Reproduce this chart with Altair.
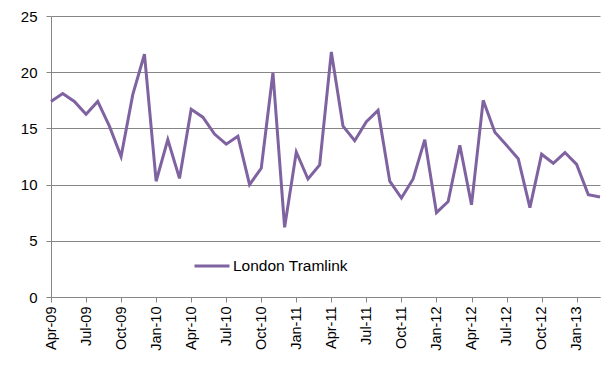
import altair as alt
import pandas as pd

months = ["Apr-09","May-09","Jun-09","Jul-09","Aug-09","Sep-09","Oct-09","Nov-09","Dec-09",
          "Jan-10","Feb-10","Mar-10","Apr-10","May-10","Jun-10","Jul-10","Aug-10","Sep-10",
          "Oct-10","Nov-10","Dec-10","Jan-11","Feb-11","Mar-11","Apr-11","May-11","Jun-11",
          "Jul-11","Aug-11","Sep-11","Oct-11","Nov-11","Dec-11","Jan-12","Feb-12","Mar-12",
          "Apr-12","May-12","Jun-12","Jul-12","Aug-12","Sep-12","Oct-12","Nov-12","Dec-12",
          "Jan-13","Feb-13","Mar-13"]
values = [17.4, 18.1, 17.4, 16.25, 17.4, 15.2, 12.5, 18.0, 21.6,
          10.3, 14.0, 10.55, 16.7, 16.0, 14.5, 13.6, 14.3, 10.0,
          11.45, 19.95, 6.2, 12.9, 10.5, 11.75, 21.8, 15.2, 13.9,
          15.6, 16.6, 10.3, 8.8, 10.5, 14.0, 7.5, 8.5, 13.5,
          8.2, 17.5, 14.65, 13.5, 12.3, 7.95, 12.7, 11.9, 12.85,
          11.8, 9.1, 8.9]
tick_labels = months[::3]
series = "London Tramlink"

df = pd.DataFrame({"month": months, "value": values, "series": series})

FONT = "Liberation Sans"
GRID = "#868686"

chart = alt.Chart(df).mark_line(strokeWidth=3).encode(
    x=alt.X("month:O", sort=months,
            scale=alt.Scale(type="point", padding=0),
            axis=alt.Axis(values=tick_labels, title=None, labelAngle=-90,
                          labelAlign="right", labelBaseline="middle",
                          labelFont=FONT, labelFontSize=14.5, labelColor="#000000",
                          labelPadding=4, tickSize=5, tickColor=GRID,
                          domainColor=GRID, grid=False)),
    y=alt.Y("value:Q", scale=alt.Scale(domain=[0, 25], nice=False),
            axis=alt.Axis(values=[0, 5, 10, 15, 20, 25], title=None,
                          labelFont=FONT, labelFontSize=15, labelColor="#000000",
                          labelPadding=9, tickSize=5, tickColor=GRID,
                          domainColor=GRID, gridColor=GRID, gridOpacity=1)),
    color=alt.Color("series:N", scale=alt.Scale(range=["#7F63A1"]),
                    legend=alt.Legend(title=None, orient="none", legendX=142, legendY=231,
                                      symbolType="stroke", symbolSize=1225,
                                      symbolStrokeWidth=3, labelFont=FONT,
                                      labelFontSize=15.5, labelColor="#000000",
                                      labelOffset=2)),
).properties(
    width=549, height=281,
    autosize=alt.AutoSizeParams(type="none"),
    padding={"left": 43, "top": 8, "right": 5, "bottom": 60},
).configure_view(stroke=None)

chart.save("out.html", embed_options={"renderer": "svg", "actions": False})
